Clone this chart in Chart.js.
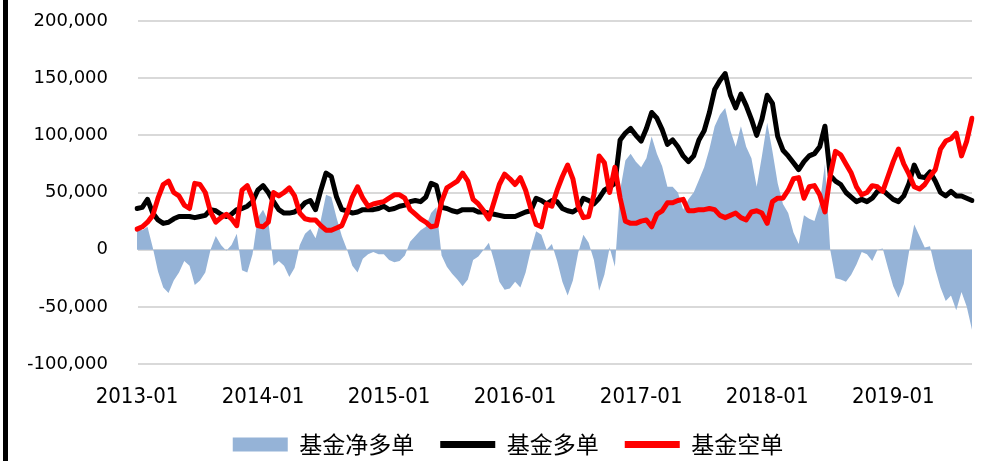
<!DOCTYPE html>
<html>
<head>
<meta charset="utf-8">
<script src="https://cdn.jsdelivr.net/npm/chart.js@4.4.0/dist/chart.umd.min.js"></script>
<style>
  body { margin: 0; background: #fff; }
  #wrap { position: relative; width: 988px; height: 461px; }
  #bar { position: absolute; left: 3px; top: 0; width: 5px; height: 461px; background: #000; }
</style>
</head>
<body>
<div id="wrap">
  <canvas id="chart" width="988" height="461"></canvas>
  <div id="bar"></div>
</div>
<script>
// 半月数据 2013-01 ~ 2019-08
const dates = [];
for (let y = 2013; y <= 2019; y++) {
    for (let m = 1; m <= 12; m++) {
        if (y === 2019 && m > 8) break;
        const mm = String(m).padStart(2, '0');
        dates.push(`${y}-${mm}-01`, `${y}-${mm}-16`);
    }
}

const netLong = [
    18000, 17000, 20000, 2000, -19000, -33000, -38000, -27000, -20000, -10000,
    -14000, -31000, -27000, -20000, 0, 12000, 4000, -1000, 4000, 14000,
    -18000, -20000, -4000, 28000, 35000, 25000, -14000, -10000, -14000, -24000,
    -16000, 4000, 14000, 18000, 10000, 26000, 48000, 46000, 28000, 12000,
    0, -14000, -20000, -8000, -4000, -2000, -4000, -4000, -9000, -11000,
    -10000, -5000, 7000, 12000, 17000, 20000, 32000, 37000, -5000, -15000,
    -21000, -26000, -32000, -26000, -9000, -6000, 0, 6000, -10000, -28000,
    -35000, -34000, -28000, -33000, -20000, 0, 16000, 13000, 0, 5000,
    -10000, -28000, -40000, -27000, -3000, 13000, 6000, -9000, -36000, -22000,
    2000, -15000, 52000, 78000, 84000, 77000, 72000, 80000, 99000, 84000,
    73000, 55000, 55000, 50000, 35000, 44000, 50000, 61000, 72000, 88000,
    108000, 118000, 124000, 104000, 90000, 108000, 90000, 80000, 55000, 82000,
    111000, 86000, 58000, 40000, 32000, 15000, 5000, 30000, 27000, 25000,
    40000, 75000, 0, -25000, -26000, -28000, -22000, -13000, -2000, -4000,
    -10000, 0, 1000, -16000, -32000, -42000, -30000, -2000, 22000, 12000,
    2000, 3000, -17000, -33000, -45000, -40000, -53000, -37000, -50000, -70000
];

const longPos = [
    36000, 37000, 44000, 32000, 26000, 23000, 24000, 27000, 29000, 29000,
    29000, 28000, 29000, 30000, 35000, 34000, 31000, 29000, 31000, 35000,
    36000, 38000, 42000, 52000, 56000, 50000, 42000, 35000, 32000, 32000,
    33000, 36000, 41000, 43000, 35000, 52000, 67000, 64000, 46000, 35000,
    34000, 32000, 33000, 35000, 35000, 35000, 36000, 38000, 35000, 36000,
    38000, 39000, 42000, 43000, 42000, 46000, 58000, 56000, 37000, 36000,
    34000, 33000, 35000, 35000, 35000, 33000, 33000, 32000, 31000, 30000,
    29000, 29000, 29000, 31000, 33000, 34000, 45000, 43000, 40000, 43000,
    42000, 36000, 34000, 33000, 36000, 45000, 43000, 40000, 45000, 52000,
    55000, 58000, 96000, 102000, 106000, 100000, 95000, 106000, 120000, 115000,
    105000, 92000, 96000, 90000, 82000, 77000, 82000, 96000, 104000, 120000,
    140000, 148000, 154000, 135000, 124000, 136000, 126000, 114000, 100000, 114000,
    135000, 128000, 99000, 87000, 82000, 76000, 70000, 77000, 82000, 84000,
    90000, 108000, 65000, 60000, 57000, 50000, 46000, 42000, 44000, 42000,
    45000, 51000, 52000, 48000, 44000, 42000, 47000, 58000, 74000, 64000,
    63000, 68000, 60000, 50000, 47000, 51000, 47000, 47000, 45000, 43000
];

const shortPos = [
    18000, 20000, 24000, 30000, 45000, 57000, 60000, 50000, 47000, 39000,
    36000, 58000, 57000, 50000, 33000, 24000, 28000, 31000, 27000, 21000,
    52000, 56000, 45000, 21000, 20000, 24000, 50000, 47000, 50000, 54000,
    47000, 32000, 27000, 26000, 26000, 21000, 17000, 17000, 19000, 21000,
    32000, 46000, 55000, 45000, 38000, 40000, 41000, 42000, 45000, 48000,
    48000, 45000, 35000, 31000, 27000, 24000, 20000, 21000, 42000, 54000,
    57000, 60000, 67000, 60000, 44000, 40000, 34000, 27000, 42000, 57000,
    66000, 62000, 57000, 63000, 52000, 36000, 22000, 20000, 40000, 38000,
    52000, 64000, 74000, 62000, 38000, 28000, 29000, 48000, 82000, 76000,
    50000, 72000, 45000, 25000, 23000, 23000, 25000, 26000, 20000, 31000,
    34000, 41000, 41000, 43000, 44000, 34000, 34000, 35000, 35000, 36000,
    35000, 30000, 28000, 30000, 32000, 28000, 26000, 33000, 34000, 32000,
    23000, 42000, 45000, 45000, 52000, 62000, 63000, 45000, 55000, 56000,
    48000, 33000, 65000, 86000, 83000, 75000, 67000, 55000, 48000, 50000,
    56000, 55000, 51000, 64000, 77000, 88000, 75000, 66000, 55000, 53000,
    57000, 64000, 70000, 88000, 95000, 97000, 102000, 82000, 95000, 115000
];

const ctx = document.getElementById('chart').getContext('2d');
new Chart(ctx, {
    type: 'line',
    data: {
        labels: dates,
        datasets: [{
            label: '基金净多单',
            data: netLong,
            backgroundColor: '#95b3d7',
            borderWidth: 0,
            fill: 'origin',
            pointRadius: 0,
            pointStyle: 'rect',
            order: 3
        }, {
            label: '基金多单',
            data: longPos,
            borderColor: '#000000',
            backgroundColor: '#000000',
            borderWidth: 5,
            borderJoinStyle: 'round',
            borderCapStyle: 'round',
            fill: false,
            pointRadius: 0,
            pointStyle: 'line',
            order: 2
        }, {
            label: '基金空单',
            data: shortPos,
            borderColor: '#ff0000',
            backgroundColor: '#ff0000',
            borderWidth: 5,
            borderJoinStyle: 'round',
            borderCapStyle: 'round',
            fill: false,
            pointRadius: 0,
            pointStyle: 'line',
            order: 1
        }]
    },
    options: {
        responsive: false,
        animation: false,
        layout: { padding: { left: 28, right: 0, top: 21, bottom: 0 } },
        plugins: {
            tooltip: { enabled: false },
            legend: {
                position: 'bottom',
                maxHeight: 54,
                labels: {
                    usePointStyle: true,
                    pointStyleWidth: 55,
                    boxHeight: 14,
                    padding: 26,
                    color: '#000',
                    font: { family: "'Noto Sans CJK SC'", size: 23 },
                    sort: (a, b) => a.datasetIndex - b.datasetIndex,
                    generateLabels: chart => Chart.defaults.plugins.legend.labels.generateLabels(chart).map(item => {
                        if (item.datasetIndex > 0) item.lineWidth = 7;
                        return item;
                    })
                }
            }
        },
        scales: {
            x: {
                grid: { display: false, drawTicks: false },
                border: { display: false },
                ticks: {
                    autoSkip: false,
                    maxRotation: 0,
                    padding: 20,
                    color: '#000',
                    font: { family: "'Liberation Sans Narrow', 'DejaVu Sans Condensed'", size: 22 },
                    callback: function(value) {
                        const d = this.getLabelForValue(value);
                        return d.slice(5) === '01-01' ? d.slice(0, 7) : null;
                    }
                },
                afterFit: scale => { scale.height = 43; }
            },
            y: {
                min: -100000,
                max: 200000,
                grid: {
                    color: '#d9d9d9',
                    lineWidth: 2,
                    drawTicks: true,
                    tickLength: 29,
                    tickColor: 'rgba(0,0,0,0)'
                },
                border: { color: 'rgba(0,0,0,0)' },
                ticks: {
                    stepSize: 50000,
                    padding: 0,
                    color: '#000',
                    font: { family: "'DejaVu Sans'", size: 18 },
                    callback: v => v.toLocaleString('en-US')
                },
                afterFit: scale => { scale.width = 109; }
            },
            // 右侧留白
            yRight: {
                position: 'right',
                grid: { display: false },
                border: { display: false },
                ticks: { display: false },
                afterFit: scale => { scale.width = 16; }
            }
        }
    }
});
</script>
</body>
</html>
